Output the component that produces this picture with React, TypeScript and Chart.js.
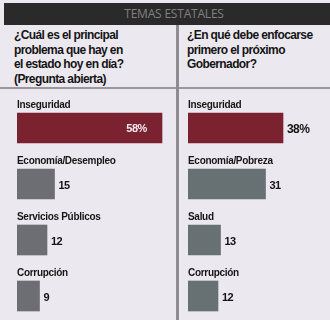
import React, { useEffect, useRef } from "react";
import { Chart, registerables } from "chart.js";

Chart.register(...registerables);

const headerTitle = "TEMAS ESTATALES";
const leftQuestion = ["¿Cuál es el principal", "problema que hay en", "el estado hoy en día?", "(Pregunta abierta)"];
const rightQuestion = ["¿En qué debe enfocarse", "primero el próximo", "Gobernador?"];

const leftCategories = ["Inseguridad", "Economía/Desempleo", "Servicios Públicos", "Corrupción"];
const leftValues = [58, 15, 12, 9];
const rightCategories = ["Inseguridad", "Economía/Pobreza", "Salud", "Corrupción"];
const rightValues = [38, 31, 13, 12];

const RED = "#7b2231";
const LEFT_GRAY = "#6d6e73";
const RIGHT_GRAY = "#677073";
const BG = "#ece8ef";

type PanelProps = {
  labels: string[];
  values: number[];
  max: number;
  gray: string;
  insideFirst: boolean;
  left: number;
  width: number;
};

const labelPlugin = {
  id: "barLabels",
  afterDatasetsDraw(chart: any, _args: any, opts: any) {
    const ctx = chart.ctx;
    const meta = chart.getDatasetMeta(0);
    const labels: string[] = chart.data.labels;
    const values: number[] = chart.data.datasets[0].data;
    ctx.save();
    meta.data.forEach((el: any, i: number) => {
      const p = el.getProps(["x", "y", "base", "height"], true);
      const top = p.y - p.height / 2;
      ctx.fillStyle = "#161616";
      ctx.font = "bold 10px 'Liberation Sans', Arial, sans-serif";
      (ctx as any).letterSpacing = "-0.3px";
      ctx.textAlign = "left";
      ctx.textBaseline = "alphabetic";
      ctx.fillText(labels[i], p.base, top - 5);
      const txt = i === 0 ? values[i] + "%" : String(values[i]);
      ctx.textBaseline = "middle";
      if (i === 0 && opts.insideFirst) {
        ctx.fillStyle = "#f4e9ec";
        ctx.font = "bold 11px 'Liberation Sans', Arial, sans-serif";
        (ctx as any).letterSpacing = "-0.4px";
        ctx.textAlign = "right";
        ctx.fillText(txt, p.x - 15, p.y + 1);
      } else {
        ctx.fillStyle = "#141414";
        ctx.font = i === 0 ? "bold 12px 'Liberation Sans', Arial, sans-serif" : "bold 11px 'Liberation Sans', Arial, sans-serif";
        (ctx as any).letterSpacing = "-0.6px";
        ctx.textAlign = "left";
        ctx.fillText(txt, p.x + 4, p.y + 2);
      }
    });
    ctx.restore();
  },
};

function Panel({ labels, values, max, gray, insideFirst, left, width }: PanelProps) {
  const ref = useRef<HTMLCanvasElement>(null);
  useEffect(() => {
    if (!ref.current) return;
    const chart = new Chart(ref.current, {
      type: "bar",
      data: {
        labels,
        datasets: [
          {
            data: values,
            backgroundColor: values.map((_, i) => (i === 0 ? RED : gray)),
            borderWidth: 0,
            barThickness: 30,
          },
        ],
      },
      options: {
        indexAxis: "y",
        responsive: true,
        maintainAspectRatio: false,
        animation: false,
        layout: { padding: 0 },
        scales: {
          x: { display: false, min: 0, max },
          y: { display: false },
        },
        plugins: {
          legend: { display: false },
          tooltip: { enabled: false },
          barLabels: { insideFirst },
        } as any,
      },
      plugins: [labelPlugin],
    });
    return () => chart.destroy();
  }, []);
  return (
    <div style={{ position: "absolute", left, top: 100, width, height: 224 }}>
      <canvas ref={ref} style={{ display: "block" }} />
    </div>
  );
}

const qStyle: React.CSSProperties = {
  position: "absolute",
  top: 28,
  fontFamily: "'Liberation Sans', Arial, sans-serif",
  fontWeight: "bold",
  fontSize: 12,
  lineHeight: "14.5px",
  letterSpacing: "-0.6px",
  color: "#151515",
  whiteSpace: "nowrap",
};

export default function App() {
  return (
    <div
      style={{
        position: "fixed",
        left: 0,
        top: 0,
        width: 330,
        height: 320,
        overflow: "hidden",
        background: BG,
      }}
    >
      <div
        style={{
          position: "absolute",
          left: 4,
          top: 3,
          width: 326,
          height: 22,
          background: "#2a2a2b",
        }}
      />
      <div
        style={{
          position: "absolute",
          left: 4,
          top: 3,
          width: 340,
          height: 22,
          lineHeight: "22px",
          textAlign: "center",
          color: "#818181",
          fontFamily: "'Open Sans', sans-serif",
          fontSize: 12,
          letterSpacing: "-0.2px",
        }}
      >
        {headerTitle}
      </div>
      <div style={{ ...qStyle, left: 14 }}>
        {leftQuestion.map((l, i) => (
          <div key={i}>{l}</div>
        ))}
      </div>
      <div style={{ ...qStyle, left: 187 }}>
        {rightQuestion.map((l, i) => (
          <div key={i}>{l}</div>
        ))}
      </div>
      <div style={{ position: "absolute", left: 0, top: 87, width: 330, height: 1.5, background: "#9a989d" }} />
      <Panel labels={leftCategories} values={leftValues} max={64} gray={LEFT_GRAY} insideFirst={true} left={17} width={160} />
      <Panel labels={rightCategories} values={rightValues} max={56} gray={RIGHT_GRAY} insideFirst={false} left={188} width={140} />
      <div style={{ position: "absolute", left: 176, top: 25, width: 3, height: 300, background: "#8e8c92" }} />
    </div>
  );
}
